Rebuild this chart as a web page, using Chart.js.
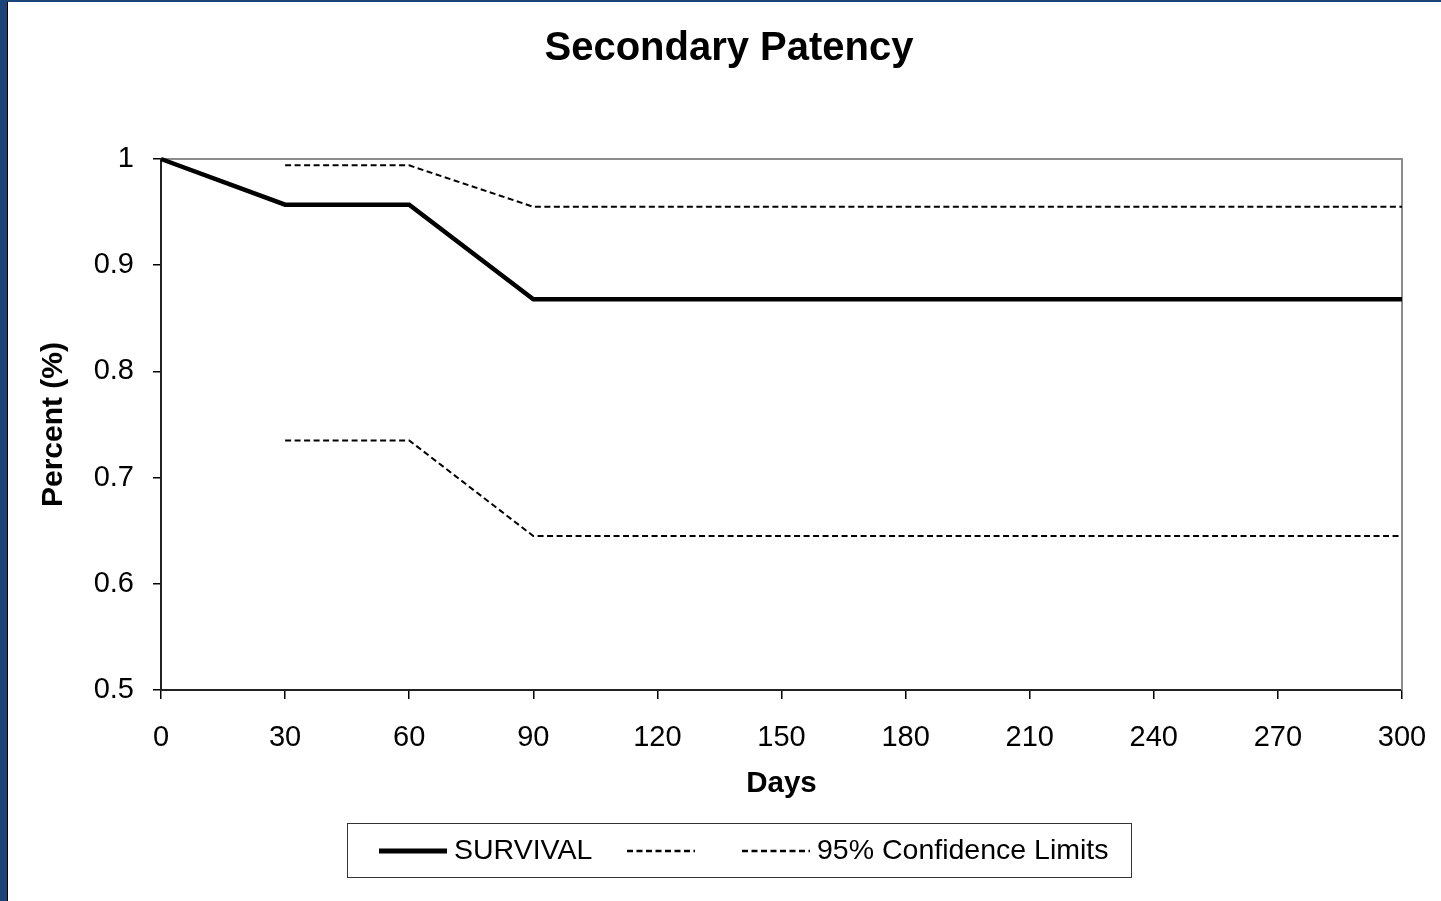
<!DOCTYPE html>
<html><head><meta charset="utf-8">
<script src="https://cdn.jsdelivr.net/npm/chart.js@4.4.1/dist/chart.umd.min.js"></script>
<style>
html,body{margin:0;padding:0;background:#1c4478;width:1441px;height:901px;overflow:hidden}
#wrap{position:absolute;left:7px;top:2px;width:1434px;height:899px;background:#fff;border-left:1px solid #000;box-sizing:border-box}
canvas{display:block}
</style></head><body>
<div id="wrap"><canvas id="c" width="1433" height="899" style="width:1433px;height:899px"></canvas></div>
<script>
const chartTitle = 'Secondary Patency';
const xTitle = 'Days';
const yTitle = 'Percent (%)';
const xTicks = [0, 30, 60, 90, 120, 150, 180, 210, 240, 270, 300];
const yTicks = [0.5, 0.6, 0.7, 0.8, 0.9, 1];
const yTickLabels = ['0.5', '0.6', '0.7', '0.8', '0.9', '1'];
const survivalDays = [0, 30, 60, 90, 300];
const survival = [1, 0.957, 0.957, 0.868, 0.868];
const ciDays = [30, 60, 90, 300];
const upperCI = [0.994, 0.994, 0.955, 0.955];
const lowerCI = [0.735, 0.735, 0.645, 0.645];
const seriesLabels = ['SURVIVAL', '', '95% Confidence Limits'];

const FONT = "'Liberation Sans', Arial, sans-serif";
const toPts = (xs, ys) => xs.map((x, i) => ({x: x, y: ys[i]}));

const frame = {
  id: 'frame',
  beforeDatasetsDraw(chart) {
    const {ctx, chartArea: a} = chart;
    ctx.save();
    ctx.strokeStyle = '#8c8c8c';
    ctx.lineWidth = 2;
    ctx.beginPath();
    ctx.moveTo(a.left, a.top);
    ctx.lineTo(a.right, a.top);
    ctx.lineTo(a.right, a.bottom);
    ctx.stroke();
    ctx.restore();
  }
};

const titlePlugin = {
  id: 'ttl',
  afterDraw(chart) {
    const ctx = chart.ctx;
    ctx.save();
    ctx.font = 'bold 40px ' + FONT;
    ctx.fillStyle = '#000';
    ctx.textAlign = 'center';
    ctx.textBaseline = 'middle';
    ctx.fillText(chartTitle, 721, 47);
    ctx.restore();
  }
};

const legendPlugin = {
  id: 'lgd',
  afterDraw(chart) {
    const ctx = chart.ctx;
    const bx = 339, by = 821, bw = 784, bh = 54;
    ctx.save();
    ctx.fillStyle = '#fff';
    ctx.fillRect(bx, by, bw, bh);
    ctx.strokeStyle = '#333';
    ctx.lineWidth = 1;
    ctx.strokeRect(bx + 0.5, by + 0.5, bw, bh);
    const starts = [32, 280, 395];
    const cy = by + bh / 2 + 1;
    ctx.font = '28.5px ' + FONT;
    ctx.textBaseline = 'middle';
    ctx.fillStyle = '#000';
    chart.data.datasets.forEach((ds, i) => {
      const x0 = bx + starts[i];
      ctx.save();
      ctx.strokeStyle = ds.borderColor;
      ctx.lineWidth = ds.borderWidth + 0.5;
      ctx.setLineDash(ds.borderDash || []);
      ctx.beginPath();
      ctx.moveTo(x0, cy);
      ctx.lineTo(x0 + 68, cy);
      ctx.stroke();
      ctx.restore();
      if (ds.label) ctx.fillText(ds.label, x0 + 75, cy);
    });
    ctx.restore();
  }
};

new Chart(document.getElementById('c'), {
  type: 'line',
  data: {
    datasets: [
      {label: seriesLabels[0], data: toPts(survivalDays, survival), borderColor: '#000', borderWidth: 4.5, pointRadius: 0, tension: 0, clip: false},
      {label: seriesLabels[1], data: toPts(ciDays, upperCI), borderColor: '#000', borderWidth: 2, borderDash: [6, 3.5], pointRadius: 0, tension: 0, clip: false},
      {label: seriesLabels[2], data: toPts(ciDays, lowerCI), borderColor: '#000', borderWidth: 2, borderDash: [6, 3.5], pointRadius: 0, tension: 0, clip: false}
    ]
  },
  options: {
    responsive: false,
    animation: false,
    events: [],
    layout: {padding: {left: 28, right: 39, top: 157, bottom: 97}},
    plugins: {legend: {display: false}, title: {display: false}, tooltip: {enabled: false}},
    scales: {
      x: {
        type: 'linear', min: 0, max: 300,
        afterBuildTicks: s => { s.ticks = xTicks.map(v => ({value: v})); },
        afterFit: s => { s.height = 114; s.paddingLeft = 0; s.paddingRight = 0; },
        grid: {drawOnChartArea: false, tickLength: 9, color: '#000', lineWidth: 1.5},
        border: {color: '#222', width: 2},
        ticks: {font: {size: 29, family: FONT}, color: '#000', padding: 22, maxRotation: 0, autoSkip: false},
        title: {display: true, text: xTitle, font: {size: 29.5, weight: 'bold', family: FONT}, color: '#000', padding: {top: 0, bottom: 2}}
      },
      y: {
        type: 'linear', min: 0.5, max: 1,
        afterBuildTicks: s => { s.ticks = yTicks.map(v => ({value: v})); },
        afterFit: s => { s.width = 125; s.paddingTop = 0; s.paddingBottom = 0; },
        grid: {drawOnChartArea: false, tickLength: 8, color: '#000', lineWidth: 1.5},
        border: {color: '#222', width: 2},
        ticks: {font: {size: 29, family: FONT}, color: '#000', padding: 19,
          callback: (v) => { const i = yTicks.indexOf(v); return i >= 0 ? yTickLabels[i] : ''; }},
        title: {display: true, text: yTitle, font: {size: 30, weight: 'bold', family: FONT}, color: '#000', padding: {top: 0, bottom: 0}}
      }
    }
  },
  plugins: [frame, titlePlugin, legendPlugin]
});
</script>
</body></html>
